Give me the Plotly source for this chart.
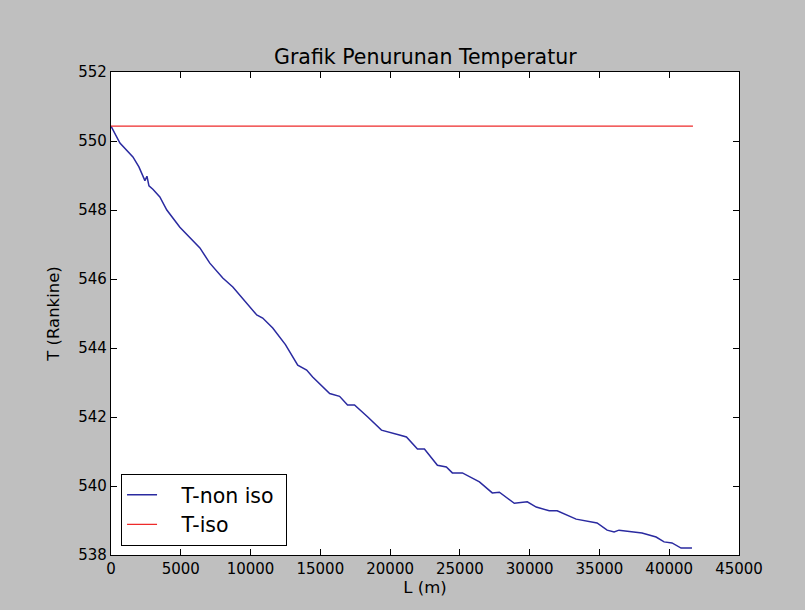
import plotly.graph_objects as go

L_non_iso = [0, 640, 1570, 2000, 2430, 2575, 2720, 3000, 3500, 4000, 4935, 5650, 6370,
             7080, 8010, 8730, 9500, 10440, 10870, 11590, 12500, 13380, 14020, 14450,
             15670, 16380, 16950, 17450, 18400, 19380, 20670, 21170, 21960, 22460,
             23390, 24030, 24460, 25180, 26400, 27320, 27830, 28900, 29830, 30470,
             31400, 31970, 33330, 34830, 35550, 36050, 36400, 38050, 39060, 39630,
             40200, 40850, 41630]
T_non_iso = [550.43, 549.94, 549.54, 549.25, 548.85, 548.98, 548.7, 548.6, 548.38, 548.0,
             547.5, 547.19, 546.9, 546.46, 546.03, 545.77, 545.4, 544.96, 544.87, 544.58,
             544.1, 543.5, 543.36, 543.16, 542.68, 542.6, 542.35, 542.35, 542.0, 541.62,
             541.48, 541.42, 541.07, 541.07, 540.6, 540.55, 540.38, 540.38, 540.12, 539.8,
             539.82, 539.5, 539.54, 539.39, 539.28, 539.28, 539.04, 538.93, 538.72, 538.67,
             538.72, 538.64, 538.52, 538.38, 538.35, 538.2, 538.2]

L_iso = [0, 41700]
T_iso = [550.43, 550.43]

x_ticks = [0, 5000, 10000, 15000, 20000, 25000, 30000, 35000, 40000, 45000]
y_ticks = [538, 540, 542, 544, 546, 548, 550, 552]

FONT = "DejaVu Sans"
LEAD = "\u00a0\u00a0\u00a0"
TRAIL = "\u00a0"

fig = go.Figure()
fig.add_trace(go.Scatter(x=L_non_iso, y=T_non_iso, mode="lines",
                         name=LEAD + "T-non iso" + TRAIL,
                         line=dict(color="#2a2aa0", width=1.5)))
fig.add_trace(go.Scatter(x=L_iso, y=T_iso, mode="lines",
                         name=LEAD + "T-iso" + TRAIL,
                         line=dict(color="#ee2a2a", width=1.3)))

axis_common = dict(showline=True, linecolor="black", linewidth=1.2, mirror="ticks",
                   ticks="inside", ticklen=6, tickwidth=1, tickcolor="black",
                   showgrid=False, zeroline=False,
                   tickfont=dict(family=FONT, size=15, color="black"))

fig.update_layout(
    width=805, height=610,
    paper_bgcolor="#bfbfbf", plot_bgcolor="white",
    margin=dict(l=111, r=66, t=72, b=55),
    font=dict(family=FONT, color="black"),
    xaxis=dict(range=[0, 45000], tickvals=x_ticks, ticktext=[str(v) for v in x_ticks],
               title=dict(text="L (m)", font=dict(family=FONT, size=16.5), standoff=2),
               **axis_common),
    yaxis=dict(range=[538, 552], tickvals=y_ticks, ticktext=[str(v) for v in y_ticks],
               title=dict(text="T (Rankine)", font=dict(family=FONT, size=16.5), standoff=14),
               **axis_common),
    legend=dict(x=0.016, y=0.019, xanchor="left", yanchor="bottom",
                bgcolor="white", bordercolor="black", borderwidth=1,
                font=dict(family=FONT, size=20.5), itemwidth=30, tracegroupgap=0),
    showlegend=True,
    annotations=[dict(text="Grafik Penurunan Temperatur", x=0.5, y=1, xref="paper",
                      yref="paper", xanchor="center", yanchor="bottom", yshift=1,
                      showarrow=False, font=dict(family=FONT, size=20.5, color="black"))],
)

fig.write_html("out.html", config={"displayModeBar": False},
               post_script="document.body.style.margin='0';")
